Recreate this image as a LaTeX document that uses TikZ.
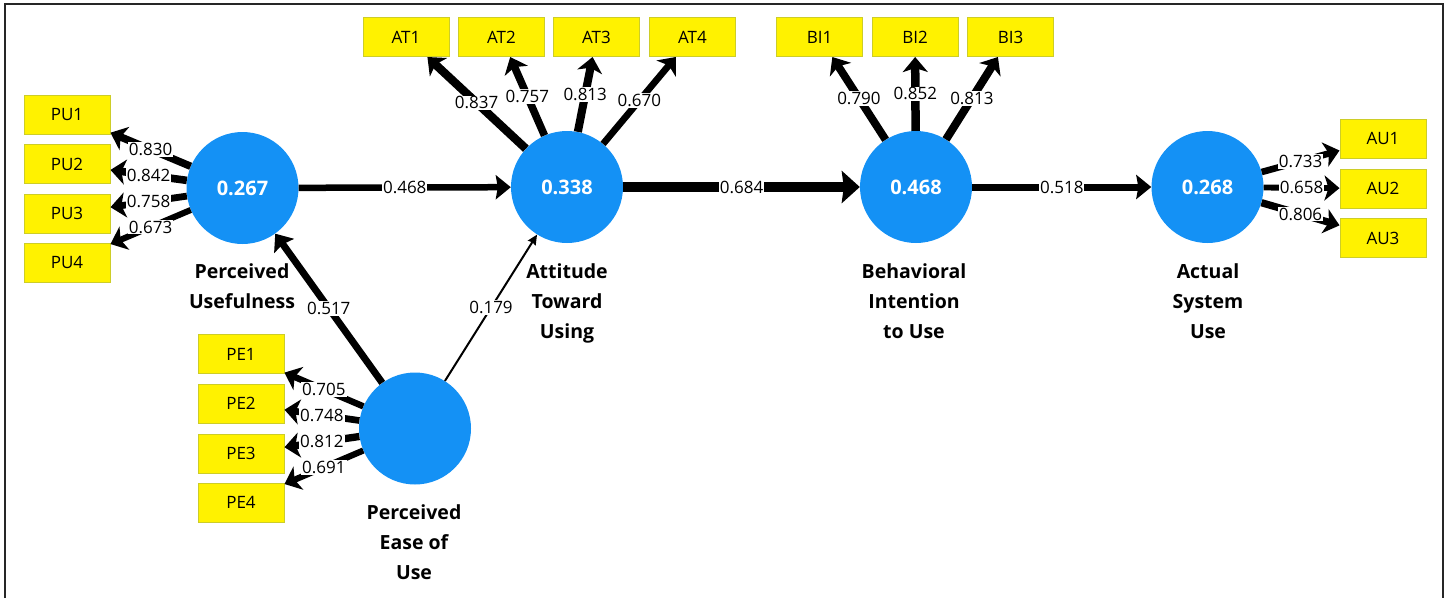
\documentclass[tikz,border=0pt]{standalone}
\usepackage{fontspec}
\setmainfont{Open Sans}
\usetikzlibrary{arrows.meta}
\definecolor{lvblue}{RGB}{20,145,245}
\definecolor{mvedge}{RGB}{205,205,40}
\begin{document}
\begin{tikzpicture}[x=1pt,y=-1pt,
 lv/.style={circle, fill=lvblue, minimum size=112pt, inner sep=0pt, text=white, font=\fontsize{20}{24}\selectfont\bfseries},
 mv/.style={rectangle, fill=yellow, draw=mvedge, line width=1pt, minimum width=86pt, minimum height=39pt, inner sep=0pt, font=\fontsize{17}{20}\selectfont},
 lvname/.style={align=center, font=\fontsize{19.5}{30}\selectfont\bfseries, inner sep=0pt, anchor=north},
 lbl/.style={fill=white, inner sep=1pt, font=\fontsize{17}{20}\selectfont, midway},
 load/.style={line width=#1pt, -{Stealth[length=15pt,width=25pt,inset=4pt]}},
 pathmid/.style={line width=#1pt, -{Stealth[length=15pt,width=24pt,inset=2pt]}},
 paththick/.style={line width=10pt, -{Stealth[length=18pt,width=32pt,inset=2pt]}},
 paththin/.style={line width=2pt, -{Stealth[length=10pt,width=9pt,inset=1pt]}}
]
\useasboundingbox (0,0) rectangle (1451,598);
\draw[line width=2pt, black!85] (5,598) -- (5,4) -- (1443,4) -- (1443,598);

% latent variables
\node[lv] (pu) at (242.5,188) {0.267};
\node[lv] (at) at (567,187) {0.338};
\node[lv] (bi) at (916,187) {0.468};
\node[lv] (au) at (1207.5,187) {0.268};
\node[lv] (pe) at (415,428.5) {};

% names
\node[lvname] (puname) at (242,263) {Perceived\\Usefulness};
\node[lvname] (atname) at (567,263) {Attitude\\Toward\\Using};
\node[lvname] (biname) at (914,263) {Behavioral\\Intention\\to Use};
\node[lvname] (auname) at (1208,263) {Actual\\System\\Use};
\node[lvname] (pename) at (414,504) {Perceived\\Ease of\\Use};

% indicators
\node[mv] (pu1) at (67,114.5) {PU1};
\node[mv] (pu2) at (67,164) {PU2};
\node[mv] (pu3) at (67,213.5) {PU3};
\node[mv] (pu4) at (67,262.5) {PU4};
\node[mv] (pe1) at (241,354) {PE1};
\node[mv] (pe2) at (241,403.5) {PE2};
\node[mv] (pe3) at (241,453.5) {PE3};
\node[mv] (pe4) at (241,502.5) {PE4};
\node[mv] (at1) at (406,37) {AT1};
\node[mv] (at2) at (501.5,37) {AT2};
\node[mv] (at3) at (596.5,37) {AT3};
\node[mv] (at4) at (692.5,37) {AT4};
\node[mv] (bi1) at (819.5,37) {BI1};
\node[mv] (bi2) at (915,37) {BI2};
\node[mv] (bi3) at (1010.5,37) {BI3};
\node[mv] (au1) at (1383,138.5) {AU1};
\node[mv] (au2) at (1383,188.5) {AU2};
\node[mv] (au3) at (1383,238) {AU3};

% loadings
\draw[load=7.5] (pu) -- node[lbl]{0.830} (pu1);
\draw[load=7.6] (pu) -- node[lbl]{0.842} (pu2);
\draw[load=6.8] (pu) -- node[lbl]{0.758} (pu3);
\draw[load=6.1] (pu) -- node[lbl]{0.673} (pu4);
\draw[load=6.4] (pe) -- node[lbl]{0.705} (pe1);
\draw[load=6.7] (pe) -- node[lbl]{0.748} (pe2);
\draw[load=7.3] (pe) -- node[lbl]{0.812} (pe3);
\draw[load=6.2] (pe) -- node[lbl]{0.691} (pe4);
\draw[load=8.4] (at) -- node[lbl]{0.837} (at1);
\draw[load=7.6] (at) -- node[lbl]{0.757} (at2);
\draw[load=8.1] (at) -- node[lbl]{0.813} (at3);
\draw[load=6.7] (at) -- node[lbl]{0.670} (at4);
\draw[load=7.9] (bi) -- node[lbl]{0.790} (bi1);
\draw[load=8.5] (bi) -- node[lbl]{0.852} (bi2);
\draw[load=8.1] (bi) -- node[lbl]{0.813} (bi3);
\draw[load=6.6] (au) -- node[lbl]{0.733} (au1);
\draw[load=5.9] (au) -- node[lbl]{0.658} (au2);
\draw[load=7.3] (au) -- node[lbl]{0.806} (au3);

% structural paths
\draw[pathmid=6.5] (pu) -- node[lbl]{0.468} (at);
\draw[paththick] (at) -- node[lbl]{0.684} (bi);
\draw[pathmid=7] (bi) -- node[lbl]{0.518} (au);
\draw[pathmid=7] (pe) -- node[lbl]{0.517} (pu);
\draw[paththin] (pe) -- node[lbl]{0.179} (at);
\end{tikzpicture}
\end{document}
